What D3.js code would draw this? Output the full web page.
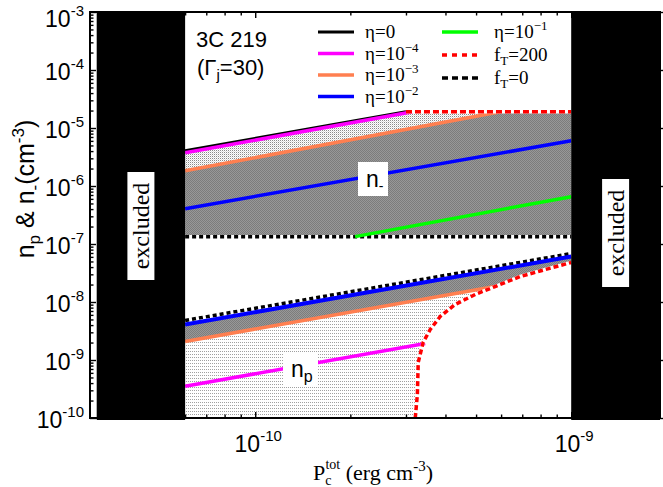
<!DOCTYPE html>
<html>
<head>
<meta charset="utf-8">
<script src="https://cdn.jsdelivr.net/npm/d3@7"></script>
<style>
  html, body { margin: 0; padding: 0; background: #fff; }
  svg { display: block; }
</style>
</head>
<body>
<svg id="chart" width="663" height="487"></svg>
<script>
// ---- Axis ranges ----------------------------------------------------------
const xDomain = [3.0e-11, 1.91e-9];      // P_c^tot (erg cm^-3)
const yDomain = [1e-10, 1e-3];           // n (cm^-3)
const xMajorExp = [-10, -9];
const yMajorExp = [-10, -9, -8, -7, -6, -5, -4, -3];

// ---- Excluded pressure intervals -----------------------------------------
const excludedLow = [3.15e-11, 6e-11];
const excludedHigh = [1e-9, 1.91e-9];

// ---- Allowed pressure window ---------------------------------------------
const pLeft = 6e-11, pRight = 1e-9;

// ---- n_- (pairs) : [P, n] -------------------------------------------------
const nMinusCap = 1.9e-5;     // f_T = 200 ceiling
const nMinusFloor = 1.34e-7;  // f_T = 0 floor
const minusEta0 = [[6e-11, 4.06e-6], [3.0e-10, 1.9e-5]];
const minusEta4 = [[6e-11, 3.74e-6], [3.15e-10, 1.9e-5]];
const minusEta3 = [[6e-11, 1.83e-6], [5.96e-10, 1.9e-5]];
const minusEta2 = [[6e-11, 4.06e-7], [1e-9, 6.03e-6]];
const minusEta1 = [[2.07e-10, 1.34e-7], [1e-9, 6.55e-7]];
const minusFT200 = [[3.0e-10, 1.9e-5], [1e-9, 1.9e-5]];
const minusFT0 = [[6e-11, 1.34e-7], [1e-9, 1.34e-7]];

// ---- n_p (protons) : [P, n] ----------------------------------------------
const plusFT0 = [[6e-11, 4.81e-9], [1e-9, 6.84e-8]];
const plusEta2 = [[6e-11, 4.10e-9], [1e-9, 6.07e-8]];
const plusEta3 = [[6e-11, 2.09e-9], [5.74e-10, 1.85e-8]];
const plusEta4 = [[6e-11, 3.52e-10], [3.45e-10, 1.93e-9]];
const plusFT200 = [
  [3.21e-10, 1e-10], [3.26e-10, 2.56e-10], [3.28e-10, 9.1e-10],
  [3.40e-10, 2.01e-9], [3.58e-10, 3.36e-9], [3.85e-10, 5.63e-9],
  [4.29e-10, 9.05e-9], [4.97e-10, 1.35e-8], [5.74e-10, 1.85e-8],
  [6.90e-10, 2.75e-8], [8.28e-10, 3.63e-8], [1e-9, 4.79e-8]
];
const plusFT200Knee = 8;   // index where the η=10^-3 curve meets f_T=200

// ---- Legend -------------------------------------------------------------
const legendItems = [
  { parts: [["η=0", ""]], color: "#000", dash: null, width: 3 },
  { parts: [["η=10", ""], ["−4", "sup"]], color: "#ff00ff", dash: null, width: 3.5 },
  { parts: [["η=10", ""], ["−3", "sup"]], color: "#ff7f50", dash: null, width: 3.5 },
  { parts: [["η=10", ""], ["−2", "sup"]], color: "#0000ff", dash: null, width: 3.5 },
  { parts: [["η=10", ""], ["−1", "sup"]], color: "#00ff00", dash: null, width: 3.5 },
  { parts: [["f", ""], ["T", "sub"], ["=200", ""]], color: "#ff0000", dash: "5,5", width: 3.5 },
  { parts: [["f", ""], ["T", "sub"], ["=0", ""]], color: "#000", dash: "6,4", width: 3.5 }
];

// ---- Layout ---------------------------------------------------------------
const frame = { left: 90, right: 660, top: 12, bottom: 418 };
const svg = d3.select("#chart");
const x = d3.scaleLog().domain(xDomain).range([frame.left, frame.right]);
const y = d3.scaleLog().domain(yDomain).range([frame.bottom, frame.top]);
const sans = "Liberation Sans, Arial, sans-serif";
const serif = "Liberation Serif, Times New Roman, serif";

svg.append("rect").attr("width", 663).attr("height", 487).attr("fill", "#fff");

// ---- Fill patterns ------------------------------------------------------
const defs = svg.append("defs");
const lightUpper = defs.append("pattern").attr("id", "lightUpper")
  .attr("patternUnits", "userSpaceOnUse").attr("width", 2).attr("height", 2);
lightUpper.append("rect").attr("width", 2).attr("height", 2).attr("fill", "#fff");
lightUpper.append("rect").attr("width", 1).attr("height", 1).attr("fill", "#8a8a8a");
lightUpper.append("rect").attr("x", 1).attr("y", 1).attr("width", 1).attr("height", 1).attr("fill", "#dcdcdc");

const lightLower = defs.append("pattern").attr("id", "lightLower")
  .attr("patternUnits", "userSpaceOnUse").attr("width", 2).attr("height", 3);
lightLower.append("rect").attr("width", 2).attr("height", 3).attr("fill", "#fff");
lightLower.append("rect").attr("width", 1).attr("height", 1).attr("fill", "#a0a0a0");

const darkGray = defs.append("pattern").attr("id", "darkGray")
  .attr("patternUnits", "userSpaceOnUse").attr("width", 2).attr("height", 2);
darkGray.append("rect").attr("width", 2).attr("height", 2).attr("fill", "#989898");
darkGray.append("rect").attr("width", 1).attr("height", 1).attr("fill", "#7c7c7c");
darkGray.append("rect").attr("x", 1).attr("y", 1).attr("width", 1).attr("height", 1).attr("fill", "#7c7c7c");

defs.append("clipPath").attr("id", "plotClip").append("rect")
  .attr("x", frame.left).attr("y", frame.top)
  .attr("width", frame.right - frame.left).attr("height", frame.bottom - frame.top);

const plot = svg.append("g").attr("clip-path", "url(#plotClip)");
const line = d3.line().x(d => x(d[0])).y(d => y(d[1]));

// ---- Filled bands -------------------------------------------------------
const minusLightBand = [...minusEta0, ...minusEta3.slice().reverse()];
const minusGrayBand = [...minusEta3, [pRight, nMinusCap], [pRight, nMinusFloor], [pLeft, nMinusFloor]];
const plusGrayBand = [...plusEta2, ...plusFT200.slice(plusFT200Knee).reverse(), ...plusEta3.slice().reverse()];
const plusLightBand = [...plusEta3, ...plusFT200.slice(0, plusFT200Knee + 1).reverse(), [pLeft, yDomain[0]]];

const area = pts => line(pts) + "Z";
plot.append("path").attr("d", area(minusLightBand)).attr("fill", "url(#lightUpper)");
plot.append("path").attr("d", area(minusGrayBand)).attr("fill", "url(#darkGray)");
plot.append("path").attr("d", area(plusLightBand)).attr("fill", "url(#lightLower)");
plot.append("path").attr("d", area(plusGrayBand)).attr("fill", "url(#darkGray)");

// ---- Curves -------------------------------------------------------------
function drawCurve(pts, color, width, dash) {
  if (dash) {
    plot.append("path").attr("d", line(pts)).attr("fill", "none")
      .attr("stroke", "#fff").attr("stroke-width", width);
  }
  plot.append("path").attr("d", line(pts)).attr("fill", "none")
    .attr("stroke", color).attr("stroke-width", width)
    .attr("stroke-dasharray", dash || null);
}

drawCurve(minusEta0, "#000", 3, null);
drawCurve(minusEta4, "#ff00ff", 3.5, null);
drawCurve(minusEta3, "#ff7f50", 3.5, null);
drawCurve(minusEta2, "#0000ff", 3.5, null);
drawCurve(minusFT0, "#000", 3.5, "4,3");
drawCurve(minusEta1, "#00ff00", 3.5, null);
drawCurve(minusFT200, "#ff0000", 3.5, "6,3");

drawCurve(plusFT0, "#000", 3.5, "4,3");
drawCurve(plusEta2, "#0000ff", 4, null);
drawCurve(plusEta3, "#ff7f50", 3.5, null);
drawCurve(plusEta4, "#ff00ff", 3.5, null);
drawCurve(plusFT200, "#ff0000", 3.5, "5,3");

// ---- Excluded regions ---------------------------------------------------
const excludedLabelY = [226, 233];
[excludedLow, excludedHigh].forEach((r, i) => {
  const x0 = x(r[0]), x1 = x(r[1]);
  svg.append("rect").attr("x", x0).attr("y", frame.top)
    .attr("width", x1 - x0).attr("height", frame.bottom - frame.top + 2).attr("fill", "#000");
  const cx = (x0 + x1) / 2, cy = excludedLabelY[i];
  svg.append("rect").attr("x", cx - 13.5).attr("y", cy - 54).attr("width", 27).attr("height", 108).attr("fill", "#fff");
  svg.append("text").attr("transform", `translate(${cx},${cy}) rotate(-90)`)
    .attr("text-anchor", "middle").attr("dy", "0.34em")
    .attr("font-family", serif).attr("font-size", 24).text("excluded");
});

// ---- Curve labels ------------------------------------------------------
function boxedLabel(bx, by, bw, bh, tx, ty, sub, subDy, subSize) {
  svg.append("rect").attr("x", bx).attr("y", by).attr("width", bw).attr("height", bh).attr("fill", "#fff");
  const t = svg.append("text").attr("x", tx).attr("y", ty)
    .attr("font-family", sans).attr("font-size", 23);
  t.append("tspan").text("n");
  t.append("tspan").attr("dy", subDy).attr("font-size", subSize).text(sub);
}
boxedLabel(358, 162, 30, 34, 366, 187, "-", 4, 14);
boxedLabel(283, 352, 35, 35, 291, 377, "p", 5, 16);

// ---- Axes ---------------------------------------------------------------
const pow = e => Math.pow(10, e);
const xMajor = xMajorExp.map(pow);
const xMinor = [];
for (let e = -11; e <= -9; e++) for (let m = 2; m <= 9; m++) {
  const v = m * pow(e);
  if (v > xDomain[0] && v < xDomain[1]) xMinor.push(v);
}
const yMajor = yMajorExp.map(pow);
const yMinor = [];
for (let e = -10; e < -3; e++) for (let m = 2; m <= 9; m++) yMinor.push(m * pow(e));

function ticks(axisFn, scale, values, size, tx, ty) {
  const g = svg.append("g").attr("transform", `translate(${tx},${ty})`)
    .call(axisFn(scale).tickValues(values).tickSize(size).tickFormat(""));
  g.select(".domain").remove();
  g.selectAll(".tick line").attr("stroke", "#000").attr("stroke-width", 1.4);
}
ticks(d3.axisBottom, x, xMajor, -6, 0, frame.bottom);
ticks(d3.axisBottom, x, xMinor, -3.5, 0, frame.bottom);
ticks(d3.axisTop, x, xMajor, -6, 0, frame.top);
ticks(d3.axisTop, x, xMinor, -3.5, 0, frame.top);
ticks(d3.axisLeft, y, yMajor, -6, frame.left, 0);
ticks(d3.axisLeft, y, yMinor, -3.5, frame.left, 0);
ticks(d3.axisRight, y, yMajor, 3, frame.right, 0);

svg.append("rect").attr("x", frame.left).attr("y", frame.top)
  .attr("width", frame.right - frame.left).attr("height", frame.bottom - frame.top)
  .attr("fill", "none").attr("stroke", "#000").attr("stroke-width", 2);

// Tick labels (powers of ten)
yMajorExp.forEach(e => {
  const t = svg.append("text").attr("x", 84).attr("y", Math.max(y(pow(e)) + 10, 27))
    .attr("text-anchor", "end").attr("font-family", sans).attr("font-size", 23);
  t.append("tspan").text("10");
  t.append("tspan").attr("dy", -11).attr("font-size", 15).text("-" + (-e));
});
xMajorExp.forEach(e => {
  const t = svg.append("text").attr("x", x(pow(e)) + 3).attr("y", 452)
    .attr("text-anchor", "middle").attr("font-family", sans).attr("font-size", 23);
  t.append("tspan").text("10");
  t.append("tspan").attr("dy", -11).attr("font-size", 15).text("-" + (-e));
});

// Axis titles
const yt = svg.append("text").attr("transform", "translate(34,189) rotate(-90)")
  .attr("text-anchor", "middle").attr("font-family", sans).attr("font-size", 25);
yt.append("tspan").text("n");
yt.append("tspan").attr("dy", 6).attr("font-size", 17).text("p");
yt.append("tspan").attr("dy", -6).text(" & n");
yt.append("tspan").attr("dy", 6).attr("font-size", 17).text("-");
yt.append("tspan").attr("dy", -6).text("(cm");
yt.append("tspan").attr("dy", -10).attr("font-size", 17).text("-3");
yt.append("tspan").attr("dy", 10).text(")");

const xt = svg.append("text").attr("x", 313).attr("y", 480)
  .attr("font-family", serif).attr("font-size", 22);
xt.append("tspan").text("P");
xt.append("tspan").attr("dy", 5).attr("font-size", 14).text("c");
xt.append("tspan").attr("dx", -6).attr("dy", -16).attr("font-size", 14).text("tot");
xt.append("tspan").attr("dy", 11).text(" (erg cm");
xt.append("tspan").attr("dy", -9).attr("font-size", 15).text("-3");
xt.append("tspan").attr("dy", 9).text(")");

// Source title
svg.append("text").attr("x", 196).attr("y", 47)
  .attr("font-family", sans).attr("font-size", 22).text("3C 219");
const st = svg.append("text").attr("x", 197).attr("y", 75)
  .attr("font-family", sans).attr("font-size", 22);
st.append("tspan").text("(Γ");
st.append("tspan").attr("dy", 5).attr("font-size", 15).text("j");
st.append("tspan").attr("dy", -5).text("=30)");

// Legend
legendItems.forEach((d, i) => {
  const col = i < 4 ? 0 : 1, row = i < 4 ? i : i - 4;
  const ly = col === 0 ? 32 + row * 21.5 : 32 + row * 23;
  const lx0 = col === 0 ? 318 : 442, lx1 = lx0 + 36, tx = col === 0 ? 365 : 494;
  svg.append("line").attr("x1", lx0).attr("x2", lx1).attr("y1", ly).attr("y2", ly)
    .attr("stroke", d.color).attr("stroke-width", d.width)
    .attr("stroke-dasharray", d.dash);
  const t = svg.append("text").attr("x", tx).attr("y", ly + 6)
    .attr("font-family", serif).attr("font-size", 19);
  let shift = 0;
  d.parts.forEach(([s, mode]) => {
    const ts = t.append("tspan").text(s);
    const target = mode === "sup" ? -8 : mode === "sub" ? 4 : 0;
    if (target !== shift) ts.attr("dy", target - shift);
    if (mode) ts.attr("font-size", 13);
    shift = target;
  });
});
</script>
</body>
</html>
